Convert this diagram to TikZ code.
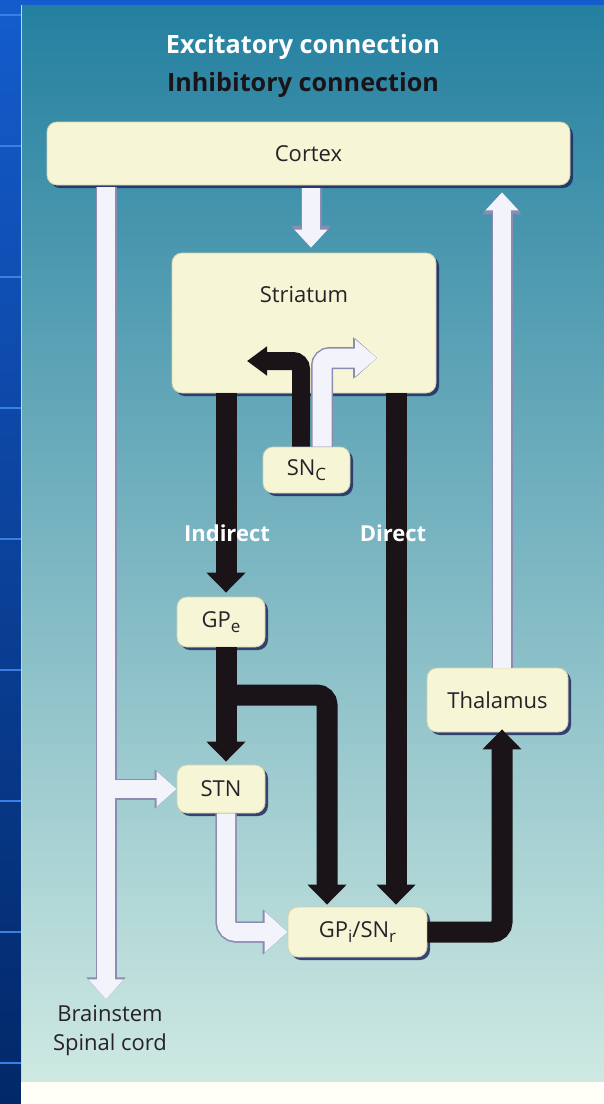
\documentclass[tikz,border=0pt]{standalone}
\usepackage{fontspec}
\setmainfont{Open Sans}
\usepackage{xcolor}
\usepackage{tikz}
\usetikzlibrary{arrows.meta,calc,positioning,shadows}

\definecolor{slideblue}{RGB}{20,92,205}
\definecolor{slidenavy}{RGB}{2,40,104}
\definecolor{slideline}{RGB}{58,128,228}
\definecolor{bgtop}{RGB}{36,128,160}
\definecolor{bgmid}{RGB}{112,178,194}
\definecolor{bgbot}{RGB}{206,233,226}
\definecolor{boxfill}{RGB}{246,246,214}
\definecolor{boxedge}{RGB}{210,210,176}
\definecolor{boxshadow}{RGB}{34,42,96}
\definecolor{excwhite}{RGB}{243,243,252}
\definecolor{excedge}{RGB}{140,140,178}
\definecolor{inhblack}{RGB}{26,20,24}
\definecolor{labeltext}{RGB}{40,34,40}

\newcommand\lowsub[1]{\raisebox{-0.45ex}{\fontsize{8.5}{9}\selectfont #1}}

\begin{document}
\begin{tikzpicture}[x=0.5pt,y=-0.5pt,
    region/.style={rounded corners=5pt, fill=boxfill, draw=boxedge, line width=0.4pt,
      drop shadow={shadow xshift=1.5pt, shadow yshift=-1.5pt, fill=boxshadow, opacity=0.85},
      text=labeltext, font=\fontsize{11}{13}\selectfont, inner sep=0pt},
    exc/.style={draw=excwhite, line width=9pt, -{Triangle[width=17pt,length=10pt]},
      preaction={draw=excedge, line width=10.5pt, -{Triangle[width=19pt,length=11pt]}}},
    inh/.style={draw=inhblack, line width=10.5pt, -{Triangle[width=19pt,length=10pt]}},
    heading/.style={font=\bfseries\fontsize{12.6}{14}\selectfont},
    pathlabel/.style={text=white, font=\bfseries\fontsize{11}{13}\selectfont}]
  \useasboundingbox (0,0) rectangle (604,1104);

  % slide and figure background
  \shade[top color=slideblue, bottom color=slidenavy] (0,0) rectangle (21,1104);
  \fill[slideblue] (0,0) rectangle (604,5);
  \foreach \y in {15,146,...,1063}
    \draw[slideline, line width=1pt] (0,\y) -- (21,\y);
  \shade[top color=bgtop, middle color=bgmid, bottom color=bgbot] (21,5) rectangle (604,1082);
  \fill[white!97!yellow] (21,1082) rectangle (604,1104);
  \draw[white!70!bgtop, line width=0.7pt] (21.5,5) -- (21.5,1082);

  % columns and bends
  \coordinate (colL) at (106,0);
  \coordinate (colC) at (311,0);
  \coordinate (colI) at (226,0);
  \coordinate (colB) at (327,0);
  \coordinate (colD) at (396,0);
  \coordinate (colT) at (502,0);
  \coordinate (colSb) at (301,0);
  \coordinate (colSw) at (322,0);
  \coordinate (gpebranch) at (226,695);
  \coordinate (stnbranch) at (115,789);
  \coordinate (sncleft) at (247,361);
  \coordinate (sncright) at (377,358);

  \node[region, minimum width=261.5pt, minimum height=31.5pt] (cortex) at (308.5,153.5) {Cortex};
  \node[region, minimum width=132pt, text height=24.5pt, text depth=45.5pt] (striatum) at (304,323) {Striatum};
  \node[region, minimum width=43.5pt, minimum height=23pt] (snc) at (306.5,470) {SN\lowsub{C}};
  \node[region, minimum width=44pt, minimum height=25pt] (gpe) at (221,622) {GP\lowsub{e}};
  \node[region, minimum width=44pt, minimum height=24pt] (stn) at (221,789) {STN};
  \node[region, minimum width=69.5pt, minimum height=25pt] (gpi) at (357.5,932) {GP\lowsub{i}/SN\lowsub{r}};
  \node[region, minimum width=70.5pt, minimum height=32pt] (thalamus) at (497.5,700) {Thalamus};
  \node[text=labeltext, align=center, inner sep=0pt, font=\fontsize{11}{14.5}\selectfont] (brainstem) at (110,1031) {Brainstem\\Spinal cord};

  % excitatory
  \draw[exc, shorten <=1pt, shorten >=3pt] (cortex.south -| colL) -- (brainstem.north -| colL);
  \draw[exc] (stnbranch) -- (stn.west);
  \draw[exc, -{Triangle[width=16pt,length=9pt]}, shorten <=1.5pt, shorten >=2.5pt,
    preaction={draw=excedge, line width=10.5pt, -{Triangle[width=18pt,length=10pt]}, shorten <=1.5pt, shorten >=2.5pt}]
    (cortex.south -| colC) -- (striatum.north -| colC);
  \draw[exc, -{Triangle[width=16pt,length=9pt]}, shorten >=3.5pt,
    preaction={draw=excedge, line width=10.5pt, -{Triangle[width=18pt,length=10pt]}, shorten >=3.5pt}]
    (thalamus.north -| colT) -- (cortex.south -| colT);
  \draw[exc, rounded corners=5pt, -{Triangle[width=20pt,length=11.5pt]},
    preaction={draw=excedge, line width=10.5pt, -{Triangle[width=22pt,length=12.5pt]}}]
    (stn.south -| colI) -- (colI |- gpi.west) -- (gpi.west);
  \draw[exc, line width=9.5pt, rounded corners=4pt, -{Triangle[width=18pt,length=11pt]},
    preaction={draw=excedge, line width=11pt, -{Triangle[width=20pt,length=12pt]}}]
    (snc.north -| colSw) -- (colSw |- sncright) -- (sncright);

  % inhibitory
  \draw[inh, line width=9pt, rounded corners=4pt, -{Triangle[width=14pt,length=10pt]}]
    (snc.north -| colSb) -- (colSb |- sncleft) -- (sncleft);
  \draw[inh, shorten >=2pt] (striatum.south -| colI) -- (gpe.north -| colI);
  \draw[inh, shorten >=1.5pt] (gpe.south -| colI) -- (stn.north -| colI);
  \draw[inh, rounded corners=5pt, shorten >=1pt] (gpebranch) -- (gpebranch -| colB) -- (gpi.north -| colB);
  \draw[inh, shorten >=1pt] (striatum.south -| colD) -- (gpi.north -| colD);
  \draw[inh, rounded corners=5pt, shorten >=-1.5pt] (gpi.east) -- (gpi.east -| colT) -- (thalamus.south -| colT);

  % labels
  \node[heading, text=white] (exclabel) at (303,47) {Excitatory connection};
  \node[heading, text=inhblack] (inhlabel) at (303,85) {Inhibitory connection};
  \node[pathlabel] (indirect) at (227,533) {Indirect};
  \node[pathlabel] (direct) at (393,533) {Direct};
\end{tikzpicture}
\end{document}
